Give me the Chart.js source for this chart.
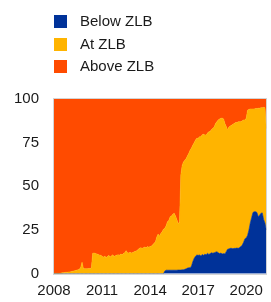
<!DOCTYPE html>
<html><head><meta charset="utf-8">
<script src="https://cdn.jsdelivr.net/npm/chart.js@4"></script>
<style>
html,body{margin:0;padding:0;background:#fff;}
#wrap{position:relative;width:271px;height:302px;overflow:hidden;}
#legend{position:absolute;left:54px;top:15px;font:15px "Liberation Sans",Arial,sans-serif;color:#1a1a1a;z-index:2;}
.item{position:relative;height:22.5px;}
.sw{position:absolute;left:0;top:0;width:13px;height:13px;}
.lb{position:absolute;left:26px;top:-3px;line-height:17px;white-space:nowrap;}
canvas{position:absolute;left:0;top:0;}
</style></head>
<body>
<div id="wrap">
<div id="legend"></div>
<canvas id="c" width="271" height="302"></canvas>
</div>
<script>
// Monthly observations, Jan 2008 .. Apr 2021 (share of total, %)
const seriesNames = ["Below ZLB", "At ZLB", "Above ZLB"];
const seriesColors = ["#003299", "#FFB400", "#FF4B00"];
const yearTicks = [2008, 2011, 2014, 2017, 2020];
const yTicks = [0, 25, 50, 75, 100];
const startYear = 2008;

const belowZLB = [
  0,0,0,0,0,0,0,0,0,0,0,0,
  0,0,0,0,0,0,0,0,0,0,0,0,
  0,0,0,0,0,0,0,0,0,0,0,0,
  0,0,0,0,0,0,0,0,0,0,0,0,
  0,0,0,0,0,0,0,0,0,0,0,0,
  0,0,0,0,0,0,0,0,0,0,0,0,
  0,0,0,0,0,0,0,0,0,0,0,1.5,
  2.0,2.0,2.0,2.0,2.0,2.0,2.0,2.0,2.0,2.1,2.1,2.1,
  2.2,2.3,2.5,2.8,3.2,3.4,3.4,4.4,7.0,8.8,10.0,10.7,
  10.5,10.7,10.2,11.0,10.5,11.2,10.8,11.7,11.0,11.5,12.0,11.7,
  12.0,12.3,12.6,12.0,11.5,11.8,11.3,11.5,11.3,12.6,14.0,14.2,
  14.5,14.5,14.3,14.5,14.5,14.7,14.5,15.0,15.5,16.4,18.0,20.0,
  20.5,22.0,25.0,29.0,32.0,35.0,35.5,35.5,35.0,32.6,33.5,34.6,
  34.8,31.0,29.0,25.0
];
const atZLB = [
  0.2,0.2,0.2,0.2,0.2,0.3,0.5,0.6,0.7,0.8,0.8,1.0,
  1.0,1.2,1.4,1.6,1.8,2.0,2.2,2.5,3.5,6.6,3.0,2.8,
  2.8,2.9,3.0,3.0,3.2,11.7,11.8,11.6,11.3,11.0,10.7,10.5,
  10.0,9.4,10.2,9.2,9.8,10.5,9.5,10.2,10.8,9.8,10.3,10.6,
  10.8,10.5,11.3,10.8,11.5,12.0,13.2,12.0,11.8,12.3,11.8,12.2,
  12.5,12.8,13.2,13.8,14.5,14.8,14.5,14.8,15.3,14.8,15.5,15.2,
  15.5,15.8,16.5,17.5,18.3,21.0,22.7,21.5,23.0,24.0,25.5,24.5,
  25.5,27.8,28.5,30.6,31.0,32.0,32.6,31.0,29.0,26.7,27.4,54.4,
  59.8,61.7,62.5,63.2,64.3,65.6,67.4,67.6,66.7,66.2,66.5,66.8,
  67.0,67.7,68.2,68.5,69.3,68.2,68.6,68.8,70.3,70.0,70.5,71.5,
  72.0,73.7,74.4,76.0,77.0,77.2,77.7,77.1,74.7,71.6,68.3,69.8,
  70.0,70.5,71.2,71.5,72.0,71.8,72.5,72.0,71.5,71.1,70.0,68.0,
  68.5,71.7,69.0,65.3,62.3,59.3,58.8,59.0,59.5,62.1,61.2,60.4,
  60.2,64.2,66.0,58.0
];
const aboveZLB = [
  99.8,99.8,99.8,99.8,99.8,99.7,99.5,99.4,99.3,99.2,99.2,99.0,
  99.0,98.8,98.6,98.4,98.2,98.0,97.8,97.5,96.5,93.4,97.0,97.2,
  97.2,97.1,97.0,97.0,96.8,88.3,88.2,88.4,88.7,89.0,89.3,89.5,
  90.0,90.6,89.8,90.8,90.2,89.5,90.5,89.8,89.2,90.2,89.7,89.4,
  89.2,89.5,88.7,89.2,88.5,88.0,86.8,88.0,88.2,87.7,88.2,87.8,
  87.5,87.2,86.8,86.2,85.5,85.2,85.5,85.2,84.7,85.2,84.5,84.8,
  84.5,84.2,83.5,82.5,81.7,79.0,77.3,78.5,77.0,76.0,74.5,74.0,
  72.5,70.2,69.5,67.4,67.0,66.0,65.4,67.0,69.0,71.2,70.5,43.5,
  38.0,36.0,35.0,34.0,32.5,31.0,29.2,28.0,26.3,25.0,23.5,22.5,
  22.5,21.6,21.6,20.5,20.2,20.6,20.6,19.5,18.7,18.5,17.5,16.8,
  16.0,14.0,13.0,12.0,11.5,11.0,11.0,11.4,14.0,15.8,17.7,16.0,
  15.5,15.0,14.5,14.0,13.5,13.5,13.0,13.0,13.0,12.5,12.0,12.0,
  11.0,6.3,6.0,5.7,5.7,5.7,5.7,5.5,5.5,5.3,5.3,5.0,
  5.0,4.8,5.0,17.0
];

// month positions (decimal years) for each observation
const monthX = belowZLB.map((_, i) => startYear + i / 12);
const toPts = arr => arr.map((v, i) => ({x: monthX[i], y: v}));

// HTML legend
const lg = document.getElementById('legend');
seriesNames.forEach((n, i) => {
  const it = document.createElement('div'); it.className = 'item';
  const sw = document.createElement('div'); sw.className = 'sw'; sw.style.background = seriesColors[i];
  const lb = document.createElement('span'); lb.className = 'lb'; lb.textContent = n;
  it.appendChild(sw); it.appendChild(lb); lg.appendChild(it);
});

const frame = {
  id: 'frame',
  beforeDatasetsDraw(chart) {
    const a = chart.chartArea, ctx = chart.ctx;
    ctx.save();
    ctx.strokeStyle = '#d4d4d4';
    ctx.lineWidth = 1;
    ctx.strokeRect(Math.round(a.left) - 0.5, Math.round(a.top) - 0.5, Math.round(a.right - a.left) + 1, Math.round(a.bottom - a.top) + 1);
    ctx.restore();
  }
};

const vals = [belowZLB, atZLB, aboveZLB];
new Chart(document.getElementById('c'), {
  type: 'line',
  data: {
    datasets: vals.map((arr, i) => ({
      label: seriesNames[i],
      data: toPts(arr),
      backgroundColor: seriesColors[i],
      borderColor: seriesColors[i],
      borderWidth: 0.6,
      pointRadius: 0,
      tension: 0,
      fill: i === 0 ? 'origin' : '-1'
    }))
  },
  options: {
    responsive: false,
    animation: false,
    devicePixelRatio: 1,
    layout: {padding: {top: 99, right: 0.5, left: 0, bottom: 0}},
    plugins: {legend: {display: false}, tooltip: {enabled: false}},
    scales: {
      x: {
        type: 'linear',
        min: 2008, max: 2021.25,
        grid: {display: false, drawTicks: false},
        border: {display: false},
        afterBuildTicks: s => { s.ticks = yearTicks.map(v => ({value: v})); },
        afterFit: s => { s.height = 28.3; },
        ticks: {
          autoSkip: false, maxRotation: 0, padding: 8,
          color: '#1a1a1a',
          font: {family: '"Liberation Sans", Arial, sans-serif', size: 15},
          callback: v => String(v)
        }
      },
      y: {
        stacked: true,
        min: 0, max: 100,
        grid: {display: false, drawTicks: false},
        border: {display: false},
        afterBuildTicks: s => { s.ticks = yTicks.map(v => ({value: v})); },
        afterFit: s => { s.width = 54; },
        ticks: {
          padding: 15,
          color: '#1a1a1a',
          font: {family: '"Liberation Sans", Arial, sans-serif', size: 15}
        }
      }
    }
  },
  plugins: [frame]
});
</script>
</body></html>
